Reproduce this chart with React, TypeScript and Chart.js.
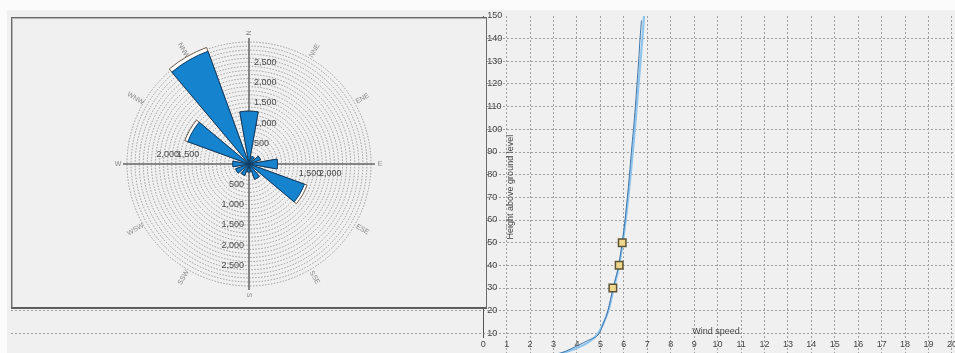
import React, { useEffect, useRef } from "react";
import { Chart, registerables } from "chart.js";

Chart.register(...registerables);

// ---------- Wind rose (left panel) ----------
const roseDirections = ["N", "NNE", "ENE", "E", "ESE", "SSE", "S", "SSW", "WSW", "W", "WNW", "NNW"];
const roseFrequency = [1300, 200, 300, 700, 1450, 400, 200, 300, 350, 400, 1600, 2950];
const roseFrequencyBack = [1300, 200, 300, 700, 1520, 400, 200, 300, 350, 400, 1680, 3050];
const roseRingLabels = [500, 1000, 1500, 2000, 2500];
const roseSideRingLabels = [1500, 2000];
const roseMax = 3000;
const roseStep = 100;

// ---------- Wind profile (right panel) ----------
const profileHeights = [0.3, 2, 4, 6.5, 10, 15, 20, 30, 40, 50, 60, 70, 80, 90, 100, 110, 120, 130, 140, 150];
const profileSpeeds = [3.0, 3.6, 4.1, 4.55, 4.9, 5.15, 5.34, 5.57, 5.8, 5.95, 6.08, 6.19, 6.29, 6.38, 6.47, 6.55, 6.63, 6.71, 6.79, 6.86];
const fitHeights = [0.5, 2, 4.5, 7, 10, 15, 20, 30, 40, 50, 60, 70, 80, 90, 100, 110, 120, 130, 140, 148];
const fitSpeeds = [3.05, 3.5, 4.0, 4.5, 4.95, 5.15, 5.32, 5.54, 5.78, 5.93, 6.05, 6.15, 6.24, 6.32, 6.41, 6.49, 6.56, 6.63, 6.69, 6.75];
const measuredHeights = [30, 40, 50];
const measuredSpeeds = [5.53, 5.8, 5.93];
const yTickLabels = [10, 20, 30, 40, 50, 60, 70, 80, 90, 100, 110, 120, 130, 140, 150];
const xTickLabels = [0, 1, 2, 3, 4, 5, 6, 7, 8, 9, 10, 11, 12, 13, 14, 15, 16, 17, 18, 19, 20];
const xAxisTitle = "Wind speed";
const yAxisTitle = "Height above ground level";

const X_MIN = -20.148;
const X_MAX = 21.758;
const Y_MIN = 0;
const Y_MAX = 150;

const FONT = '"Liberation Sans", Arial, sans-serif';
const GRID = "#9e9e9e";

const fmt = (v: number) => String(v).replace(/\B(?=(\d{3})+(?!\d))/g, ",");

const rosePlugin = {
  id: "roseDecor",
  beforeDatasetsDraw(chart: any) {
    const s = chart.scales.r;
    const ctx = chart.ctx as CanvasRenderingContext2D;
    const cx = s.xCenter;
    const cy = s.yCenter;
    const R = s.drawingArea;
    ctx.save();
    ctx.strokeStyle = "#666666";
    ctx.lineWidth = 1.5;
    const ext = R + 4;
    ctx.beginPath();
    ctx.moveTo(cx, cy - ext);
    ctx.lineTo(cx, cy + ext);
    ctx.moveTo(cx - ext, cy);
    ctx.lineTo(cx + ext, cy);
    ctx.stroke();

    ctx.font = `9px ${FONT}`;
    ctx.fillStyle = "#484848";
    ctx.textBaseline = "middle";
    roseRingLabels.forEach((v) => {
      const d = s.getDistanceFromCenterForValue(v);
      const t = fmt(v);
      ctx.textAlign = "left";
      ctx.fillText(t, cx + 5, cy - d);
      ctx.textAlign = "right";
      ctx.fillText(t, cx - 5, cy + d);
    });
    roseSideRingLabels.forEach((v) => {
      const d = s.getDistanceFromCenterForValue(v);
      const t = fmt(v);
      ctx.textAlign = "center";
      ctx.fillText(t, cx - d, cy - 9);
      ctx.fillText(t, cx + d, cy + 10);
    });

    ctx.font = `7px ${FONT}`;
    ctx.fillStyle = "#8a8a8a";
    roseDirections.forEach((d, i) => {
      const a = (i * Math.PI) / 6;
      const r = R + 9;
      const x = cx + r * Math.sin(a);
      const y = cy - r * Math.cos(a);
      ctx.save();
      ctx.translate(x, y);
      let rot = a - Math.PI / 2;
      if (a > Math.PI) rot += Math.PI;
      ctx.rotate(rot);
      ctx.textAlign = "center";
      ctx.fillText(d, 0, 0);
      ctx.restore();
    });
    ctx.restore();
  },
};

const profilePlugin = {
  id: "profileDecor",
  beforeDatasetsDraw(chart: any) {
    const xs = chart.scales.x;
    const ys = chart.scales.y;
    const ctx = chart.ctx as CanvasRenderingContext2D;
    const top = chart.chartArea.top;
    const x0 = xs.getPixelForValue(0);
    const yBottom = ys.getPixelForValue(0);
    ctx.save();
    ctx.strokeStyle = "#555555";
    ctx.lineWidth = 1;
    ctx.beginPath();
    ctx.moveTo(Math.round(x0) + 0.5, top);
    ctx.lineTo(Math.round(x0) + 0.5, yBottom - 18);
    ctx.stroke();

    ctx.font = `9px ${FONT}`;
    ctx.fillStyle = "#444444";
    ctx.textBaseline = "middle";
    ctx.textAlign = "left";
    yTickLabels.forEach((v) => ctx.fillText(String(v), x0 + 4, ys.getPixelForValue(v)));
    ctx.textAlign = "center";
    const ly = yBottom - 11;
    xTickLabels.forEach((v) => ctx.fillText(String(v), xs.getPixelForValue(v), ly));

    ctx.textAlign = "left";
    ctx.fillText(xAxisTitle, xs.getPixelForValue(9) - 2, ys.getPixelForValue(10) - 2);
    ctx.save();
    ctx.translate(x0 + 27, ys.getPixelForValue(74.5));
    ctx.rotate(-Math.PI / 2);
    ctx.textAlign = "center";
    ctx.fillText(yAxisTitle, 0, 0);
    ctx.restore();
    ctx.restore();
  },
};

function RoseChart() {
  const ref = useRef<HTMLCanvasElement | null>(null);
  useEffect(() => {
    if (!ref.current) return;
    const labels: string[] = [];
    const front: number[] = [];
    const back: number[] = [];
    roseDirections.forEach((d, i) => {
      labels.push(d, "");
      front.push(roseFrequency[i], 0);
      back.push(roseFrequencyBack[i], 0);
    });
    const chart = new Chart(ref.current, {
      type: "polarArea",
      data: {
        labels,
        datasets: [
          {
            data: front,
            backgroundColor: "#1683cf",
            borderColor: "#0d3c66",
            borderWidth: (c: any) => (c.dataIndex % 2 === 0 ? 1 : 0),
            angle: (c: any) => (c.dataIndex % 2 === 0 ? 20 : 10),
            order: 0,
          } as any,
          {
            data: back,
            backgroundColor: "#ffffff",
            borderColor: "#6d5a4a",
            borderWidth: (c: any) => (c.dataIndex % 2 === 0 ? 1 : 0),
            angle: (c: any) => (c.dataIndex % 2 === 0 ? 20 : 10),
            order: 1,
          } as any,
        ],
      },
      options: {
        animation: false,
        responsive: false,
        maintainAspectRatio: false,
        layout: { padding: { top: 23, bottom: 21, left: 2, right: 0 } },
        plugins: { legend: { display: false }, tooltip: { enabled: false } },
        scales: {
          r: {
            min: 0,
            max: roseMax,
            startAngle: -10,
            ticks: { display: false, stepSize: roseStep },
            grid: { circular: true, color: "#999999", lineWidth: 1 },
            border: { dash: [1.5, 1.5] },
            angleLines: { display: false },
            pointLabels: { display: false },
          } as any,
        },
      },
      plugins: [rosePlugin],
    });
    return () => chart.destroy();
  }, []);
  return <canvas ref={ref} width={471} height={288} style={{ display: "block" }} />;
}

function ProfileChart() {
  const ref = useRef<HTMLCanvasElement | null>(null);
  useEffect(() => {
    if (!ref.current) return;
    const chart = new Chart(ref.current, {
      type: "scatter",
      data: {
        datasets: [
          {
            label: "Measured",
            data: measuredSpeeds.map((s, i) => ({ x: s, y: measuredHeights[i] })),
            showLine: false,
            pointStyle: "rect",
            pointRadius: 5.3,
            backgroundColor: "#efd68c",
            borderColor: "#5b5235",
            borderWidth: 1.5,
            order: 0,
          },
          {
            label: "Profile",
            data: profileSpeeds.map((s, i) => ({ x: s, y: profileHeights[i] })),
            showLine: true,
            borderColor: "#8fc5ec",
            borderWidth: 2.2,
            pointRadius: 0,
            cubicInterpolationMode: "monotone",
            order: 2,
          },
          {
            label: "Fit",
            data: fitSpeeds.map((s, i) => ({ x: s, y: fitHeights[i] })),
            showLine: true,
            borderColor: "#3f74a8",
            borderWidth: 1,
            pointRadius: 0,
            cubicInterpolationMode: "monotone",
            order: 1,
          },
        ] as any,
      },
      options: {
        animation: false,
        responsive: false,
        maintainAspectRatio: false,
        layout: { padding: { left: 11, top: 16, right: 0, bottom: 14 } },
        plugins: { legend: { display: false }, tooltip: { enabled: false } },
        scales: {
          x: {
            type: "linear",
            min: X_MIN,
            max: X_MAX,
            ticks: { display: false, stepSize: 1, includeBounds: false },
            grid: {
              color: (c: any) => (c.tick && c.tick.value > 0 ? GRID : "rgba(0,0,0,0)"),
              drawTicks: false,
              lineWidth: 1,
            },
            border: { display: false, dash: [2, 2] },
          },
          y: {
            type: "linear",
            min: Y_MIN,
            max: Y_MAX,
            ticks: { display: false, stepSize: 10 },
            grid: {
              color: (c: any) =>
                c.tick && c.tick.value > 0 && c.tick.value < Y_MAX ? GRID : "rgba(0,0,0,0)",
              drawTicks: false,
              lineWidth: 1,
            },
            border: { display: false, dash: [2, 2] },
          },
        },
      },
      plugins: [profilePlugin],
    });
    return () => chart.destroy();
  }, []);
  return (
    <canvas
      ref={ref}
      width={1000}
      height={370}
      style={{ position: "absolute", left: 0, top: 0, display: "block" }}
    />
  );
}

export default function App() {
  return (
    <div
      style={{
        position: "fixed",
        left: 0,
        top: 0,
        width: 955,
        height: 353,
        overflow: "hidden",
        background: "#fbfbfb",
      }}
    >
      <div style={{ position: "absolute", left: 7, top: 10, right: 0, bottom: 0, background: "#f0f0f0" }} />
      <ProfileChart />
      <div
        style={{
          position: "absolute",
          left: 11,
          top: 17,
          width: 476,
          height: 292,
          boxSizing: "border-box",
          background: "#f0f0f0",
          border: "1px solid #6a6a6a",
          borderBottom: "2px solid #5e5e5e",
          boxShadow: "inset 1px 1px 0 #b4b4b4",
          padding: 1,
        }}
      >
        <RoseChart />
      </div>
    </div>
  );
}
